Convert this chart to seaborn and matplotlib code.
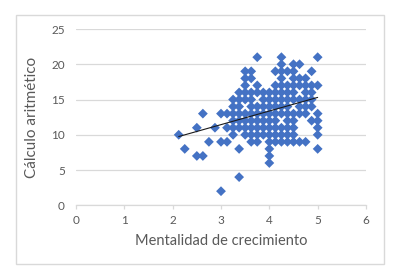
import matplotlib
matplotlib.use("Agg")
import matplotlib.pyplot as plt
import matplotlib.patches as patches
import pandas as pd
import seaborn as sns

# Values: one x level per column of diamonds
x_levels = [2.125, 2.25, 2.5, 2.625, 2.75, 2.875, 3.0, 3.125, 3.25, 3.375,
            3.5, 3.625, 3.75, 3.875, 4.0, 4.125, 4.25, 4.375, 4.5, 4.625,
            4.75, 4.875, 5.0]
y_columns = [
    [10],
    [8],
    [11, 7],
    [13, 7],
    [9],
    [11],
    [13, 9, 2],
    [13, 11, 9],
    [15, 14, 13, 12, 11, 10],
    [16, 15, 14, 13, 12, 11, 8, 4],
    [19, 18, 17, 16, 15, 13, 12, 11, 10],
    [19, 18, 16, 15, 14, 13, 12, 11, 10, 9],
    [21, 17, 16, 14, 13, 12, 11, 10, 9],
    [16, 15, 14, 13, 12, 11, 10],
    [16, 15, 14, 13, 12, 11, 10, 9, 8, 7, 6],
    [19, 17, 16, 15, 14, 13, 12, 11, 10, 9],
    [21, 20, 19, 18, 17, 16, 15, 14, 13, 11, 10, 9],
    [19, 17, 16, 15, 14, 13, 12, 11, 10, 9],
    [20, 19, 18, 17, 16, 15, 13, 12, 11, 10, 9],
    [20, 18, 17, 15, 14, 13, 9],
    [18, 17, 16, 15, 14, 13, 9],
    [19, 17, 16, 15, 14, 12],
    [21, 17, 13, 12, 11, 10, 8],
]

# linear trend line as drawn in the chart
trend_x = [2.125, 5.0]
trend_y = [9.75, 15.3]

x_ticks = [0, 1, 2, 3, 4, 5, 6]
y_ticks = [0, 5, 10, 15, 20, 25]

rows = []
for xv, ys in zip(x_levels, y_columns):
    for yv in ys:
        rows.append((xv, yv))
df = pd.DataFrame(rows, columns=["mentalidad", "calculo"])

sns.set_style("white")
plt.rcParams["font.family"] = ["Lato", "DejaVu Sans"]

fig = plt.figure(figsize=(3.97, 2.77), dpi=100)
ax = fig.add_axes([76 / 397, 1 - 205.3 / 277, 290 / 397, 176.3 / 277])

sns.scatterplot(data=df, x="mentalidad", y="calculo", marker="D", s=25,
                color="#4472C4", edgecolor="none", linewidth=0, ax=ax, zorder=3)
sns.lineplot(x=trend_x, y=trend_y, color="#1a1a1a", linewidth=0.8, ax=ax, zorder=4)

ax.set_xlim(0, 6)
ax.set_ylim(0, 25)
ax.set_xticks(x_ticks)
ax.set_yticks(y_ticks)
ax.yaxis.grid(True, color="#d9d9d9", linewidth=0.9)
ax.xaxis.grid(False)
ax.set_axisbelow(True)

for side in ["top", "right", "left"]:
    ax.spines[side].set_visible(False)
ax.spines["bottom"].set_color("#d9d9d9")
ax.spines["bottom"].set_linewidth(0.9)

ax.tick_params(axis="x", length=3, width=0.9, color="#d9d9d9", pad=4,
               labelsize=8.5, labelcolor="#595959", direction="out")
ax.tick_params(axis="y", length=0, pad=8, labelsize=8.5, labelcolor="#595959")
ax.xaxis.set_ticks_position("bottom")

ax.set_xlabel("Mentalidad de crecimiento", fontsize=10.5, color="#595959",
              labelpad=6)
ax.set_ylabel("Cálculo aritmético", fontsize=11, color="#595959", labelpad=9)

# chart area border
fig.patches.append(patches.Rectangle((16 / 397, 1 - 264 / 277), 368 / 397, 249 / 277,
                                     transform=fig.transFigure, fill=False,
                                     edgecolor="#d9d9d9", linewidth=1))

fig.savefig("out.png", dpi=100)
